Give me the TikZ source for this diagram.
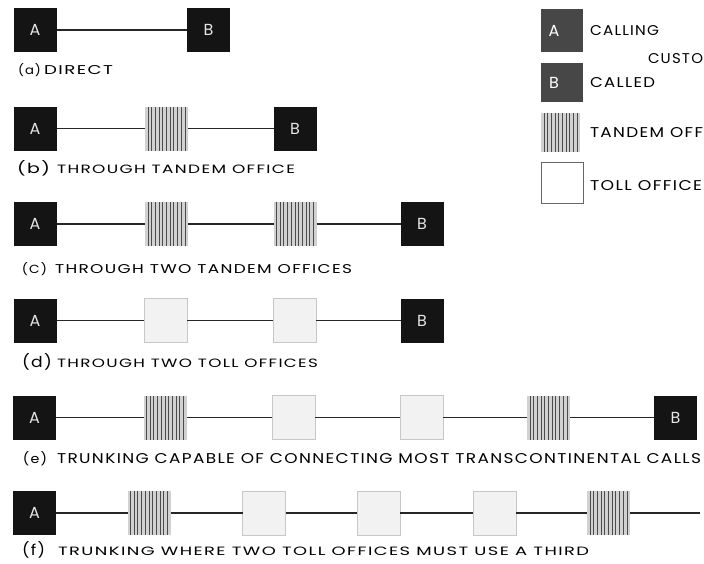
\documentclass[tikz,border=0pt]{standalone}
\usepackage{fontspec}
\usepackage{graphicx}
\setmainfont{Poppins}
\newfontfamily\lblfont[LetterSpace=8]{Poppins}
\tikzset{
  box/.style={minimum width=43pt, minimum height=44pt, inner sep=0pt, outer sep=0pt},
  cust/.style={box, fill=black!92, text=white!90!black, font=\fontsize{16}{16}\selectfont},
  tandem/.style={box, fill=black!18, path picture={
      \foreach \k in {3,6.7,...,41}{
        \draw[black!70, line width=0.85pt]
          ([xshift=\k*1pt]path picture bounding box.south west) --
          ([xshift=\k*1pt]path picture bounding box.north west);}}},
  toll/.style={box, fill=black!5, draw=black!22, line width=0.4pt},
  trunk/.style={draw=black!85, line width=1.8pt},
  lbl/.style={anchor=base west, inner sep=0pt, outer sep=0pt},
  legbox/.style={inner sep=0pt, outer sep=0pt, fill=black!72},
  legletter/.style={text=white, inner sep=0pt, font=\fontsize{16}{16}\selectfont},
}
\newcommand\fitlab[5]{\node[lbl] (#1) at (#2) {\resizebox{#3pt}{#4pt}{\lblfont #5}};}
\begin{document}
\begin{tikzpicture}[x=1pt, y=-1pt]
\fill[white] (0,0) rectangle (704,563);
\useasboundingbox (0,0) rectangle (704,563);

% (a)
\node[cust] (a1) at (35,30) {A};
\node[cust] (a2) at (208.5,30) {B};
\draw[trunk] (a1) -- (a2);
\fitlab{aL}{18,74}{23}{11}{(a)}
\fitlab{aT}{44,74}{69}{9}{DIRECT}

% (b)
\node[cust] (b1) at (35,128.5) {A};
\node[tandem] (b2) at (166.5,128.5) {};
\node[cust] (b3) at (295,128.5) {B};
\draw[trunk] (b1) -- (b2);
\draw[trunk] (b2) -- (b3);
\fitlab{bL}{17,173}{33}{13}{(b)}
\fitlab{bT}{57,173}{238}{8.5}{THROUGH TANDEM OFFICE}

% (c)
\node[cust] (c1) at (35,224) {A};
\node[tandem] (c2) at (166.5,224) {};
\node[tandem] (c3) at (295,224) {};
\node[cust] (c4) at (422,224) {B};
\draw[trunk] (c1) -- (c2);
\draw[trunk] (c2) -- (c3);
\draw[trunk] (c3) -- (c4);
\fitlab{cL}{22,273}{25}{11}{(C)}
\fitlab{cT}{55,273}{297}{9}{THROUGH TWO TANDEM OFFICES}

% (d)
\node[cust] (d1) at (35,320.5) {A};
\node[toll] (d2) at (165.5,320.5) {};
\node[toll] (d3) at (294.5,320.5) {};
\node[cust] (d4) at (422,320.5) {B};
\draw[trunk] (d1) -- (d2);
\draw[trunk] (d2) -- (d3);
\draw[trunk] (d3) -- (d4);
\fitlab{dL}{22,367}{30}{14}{(d)}
\fitlab{dT}{57,367}{261}{8.5}{THROUGH TWO TOLL OFFICES}

% (e)
\node[cust] (e1) at (34.5,417.5) {A};
\node[tandem] (e2) at (165,417.5) {};
\node[toll] (e3) at (293.5,417.5) {};
\node[toll] (e4) at (421.5,417.5) {};
\node[tandem] (e5) at (548.5,417.5) {};
\node[cust] (e6) at (675.5,417.5) {B};
\draw[trunk] (e1) -- (e2);
\draw[trunk] (e2) -- (e3);
\draw[trunk] (e3) -- (e4);
\draw[trunk] (e4) -- (e5);
\draw[trunk] (e5) -- (e6);
\fitlab{eL}{23,463}{24}{12}{(e)}
\fitlab{eT}{57,463}{644}{10}{TRUNKING CAPABLE OF CONNECTING MOST TRANSCONTINENTAL CALLS}

% (f)
\node[cust] (f1) at (34.5,513) {A};
\node[tandem] (f2) at (149,513) {};
\node[toll] (f3) at (264,513) {};
\node[toll] (f4) at (378.5,513) {};
\node[toll] (f5) at (494.5,513) {};
\node[tandem] (f6) at (608.5,513) {};
\coordinate (fend) at (700,513);
\draw[trunk] (f1) -- (f2);
\draw[trunk] (f2) -- (f3);
\draw[trunk] (f3) -- (f4);
\draw[trunk] (f4) -- (f5);
\draw[trunk] (f5) -- (f6);
\draw[trunk] (f6) -- (fend);
\fitlab{fL}{22,555}{23}{14}{(f)}
\fitlab{fT}{58,555}{531}{8.5}{TRUNKING WHERE TWO TOLL OFFICES MUST USE A THIRD}

% legend
\node[legbox, minimum width=42pt, minimum height=43pt] (kA) at (562,30.5) {};
\node[legletter] (kAt) at (554,31) {A};
\node[legbox, minimum width=42pt, minimum height=39pt] (kB) at (562,82.5) {};
\node[legletter] (kBt) at (554,83) {B};
\node[tandem, minimum width=39pt, minimum height=39pt] (kT) at (560.5,132.5) {};
\node[toll, minimum width=42pt, minimum height=41pt, draw=black!60, fill=white] (kL) at (562,182.5) {};
\fitlab{kAl}{590,35}{69}{10}{CALLING}
\fitlab{kCu}{648,63}{55}{10}{CUSTO}
\fitlab{kBl}{590,87}{65}{10}{CALLED}
\fitlab{kTl}{590,137}{113}{10}{TANDEM OFF}
\fitlab{kLl}{590,190.5}{112}{10}{TOLL OFFICE}
\end{tikzpicture}
\end{document}
